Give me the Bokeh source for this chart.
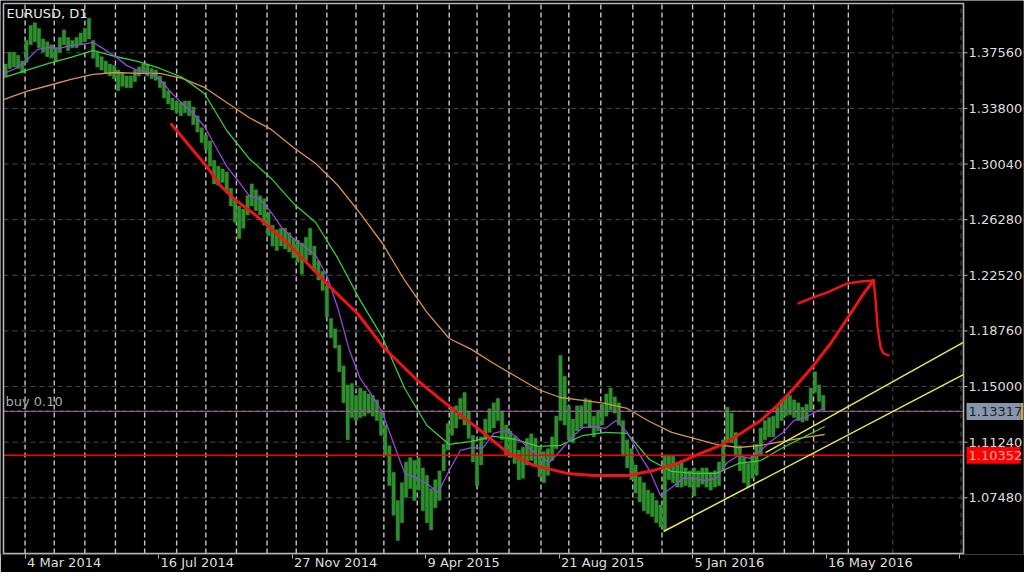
from bokeh.plotting import figure
from bokeh.models import (Range1d, FixedTicker, NumeralTickFormatter, Label, LinearAxis)
from bokeh.embed import file_html
from bokeh.resources import INLINE
from bokeh.core.properties import value

# ---------------- data ----------------
symbol_title = "EURUSD, D1"
buy_text = "buy 0.10"

# x axis = trading-day bar number (bar 0 = 11 Feb 2014)
date_tick_bars = [15, 111, 207, 303, 399, 495, 591]
date_tick_labels = ["4 Mar 2014", "16 Jul 2014", "27 Nov 2014", "9 Apr 2015",
                    "21 Aug 2015", "5 Jan 2016", "16 May 2016"]
extra_tick_bars = [687]
future_grid_bars = [639, 688]

price_ticks = [1.07480, 1.11240, 1.15000, 1.18760, 1.22520,
               1.26280, 1.30040, 1.33800, 1.37560]

# period separators (first bar of each month)
month_start_bars = [15, 36, 58, 80, 101, 124, 145, 167, 189, 210, 232, 253, 273,
                    297, 320, 340, 363, 386, 406, 429, 452, 473, 495, 518, 539,
                    561, 582, 607]

# price bars, grouped by 3 trading days: high / low of each group
bars_per_group = 3
hi = [
    1.368, 1.376, 1.376, 1.374, 1.370, 1.384, 1.394, 1.396, 1.392, 1.385,
    1.383, 1.381, 1.379, 1.386, 1.391, 1.386, 1.384, 1.386, 1.389, 1.392,
    1.399, 1.384, 1.376, 1.373, 1.370, 1.368, 1.367, 1.364, 1.362, 1.360,
    1.360, 1.364, 1.366, 1.368, 1.368, 1.365, 1.364, 1.360, 1.356, 1.350,
    1.345, 1.343, 1.342, 1.343, 1.343, 1.339, 1.333, 1.325, 1.320, 1.316,
    1.303, 1.299, 1.297, 1.295, 1.284, 1.277, 1.272, 1.270, 1.279, 1.287,
    1.283, 1.279, 1.277, 1.268, 1.259, 1.256, 1.257, 1.257, 1.254, 1.250,
    1.249, 1.247, 1.251, 1.257, 1.245, 1.235, 1.228, 1.218, 1.196, 1.189,
    1.178, 1.164, 1.151, 1.152, 1.144, 1.149, 1.147, 1.145, 1.144, 1.141,
    1.134, 1.124, 1.110, 1.092, 1.073, 1.085, 1.099, 1.102, 1.100, 1.102,
    1.095, 1.090, 1.081, 1.087, 1.093, 1.111, 1.125, 1.136, 1.137, 1.142,
    1.146, 1.133, 1.117, 1.103, 1.116, 1.128, 1.135, 1.139, 1.142, 1.133,
    1.124, 1.120, 1.116, 1.107, 1.109, 1.115, 1.118, 1.115, 1.109, 1.106,
    1.108, 1.116, 1.130, 1.171, 1.157, 1.137, 1.128, 1.137, 1.137, 1.142,
    1.141, 1.130, 1.134, 1.138, 1.145, 1.149, 1.143, 1.139, 1.127, 1.114,
    1.108, 1.097, 1.089, 1.085, 1.080, 1.078, 1.073, 1.070, 1.103, 1.103,
    1.103, 1.099, 1.100, 1.095, 1.093, 1.095, 1.093, 1.095, 1.095, 1.092,
    1.093, 1.099, 1.114, 1.136, 1.132, 1.119, 1.110, 1.102, 1.098, 1.103,
    1.111, 1.122, 1.127, 1.129, 1.130, 1.136, 1.141, 1.143, 1.144, 1.141,
    1.139, 1.136, 1.138, 1.149, 1.160, 1.151, 1.144]
lo = [
    1.360, 1.365, 1.366, 1.365, 1.362, 1.369, 1.381, 1.383, 1.379, 1.376,
    1.373, 1.372, 1.370, 1.376, 1.381, 1.377, 1.379, 1.379, 1.381, 1.383,
    1.385, 1.372, 1.366, 1.364, 1.362, 1.360, 1.358, 1.350, 1.353, 1.352,
    1.352, 1.356, 1.360, 1.362, 1.360, 1.358, 1.357, 1.352, 1.345, 1.341,
    1.337, 1.335, 1.333, 1.335, 1.333, 1.327, 1.322, 1.315, 1.310, 1.299,
    1.287, 1.286, 1.288, 1.281, 1.272, 1.261, 1.250, 1.257, 1.266, 1.272,
    1.269, 1.266, 1.259, 1.252, 1.245, 1.242, 1.245, 1.243, 1.241, 1.237,
    1.234, 1.226, 1.235, 1.239, 1.228, 1.222, 1.215, 1.197, 1.183, 1.176,
    1.160, 1.139, 1.114, 1.129, 1.127, 1.129, 1.130, 1.132, 1.130, 1.127,
    1.117, 1.103, 1.083, 1.063, 1.046, 1.058, 1.075, 1.081, 1.073, 1.080,
    1.066, 1.058, 1.053, 1.068, 1.073, 1.093, 1.107, 1.117, 1.122, 1.128,
    1.124, 1.115, 1.099, 1.083, 1.097, 1.114, 1.119, 1.122, 1.127, 1.114,
    1.103, 1.102, 1.098, 1.087, 1.088, 1.097, 1.100, 1.097, 1.089, 1.085,
    1.090, 1.100, 1.108, 1.127, 1.124, 1.114, 1.112, 1.120, 1.122, 1.125,
    1.122, 1.116, 1.120, 1.124, 1.130, 1.134, 1.132, 1.124, 1.103, 1.095,
    1.087, 1.078, 1.072, 1.066, 1.064, 1.062, 1.058, 1.055, 1.053, 1.087,
    1.085, 1.082, 1.082, 1.083, 1.082, 1.076, 1.082, 1.084, 1.082, 1.080,
    1.082, 1.083, 1.093, 1.112, 1.112, 1.103, 1.093, 1.085, 1.082, 1.088,
    1.090, 1.103, 1.114, 1.116, 1.116, 1.122, 1.127, 1.130, 1.131, 1.129,
    1.127, 1.126, 1.127, 1.134, 1.146, 1.140, 1.134]

# moving averages
ma_fast_bars = list(range(0, 585, 8)) + [590]
ma_fast = [
    1.3617, 1.3650, 1.3704, 1.3779, 1.3792, 1.3786, 1.3806, 1.3813, 1.3826, 1.3779,
    1.3731, 1.3671, 1.3637, 1.3623, 1.3576, 1.3488, 1.3414, 1.3346, 1.3258, 1.3123,
    1.2988, 1.2893, 1.2792, 1.2765, 1.2677, 1.2569, 1.2501, 1.2447, 1.2386, 1.2251,
    1.2028, 1.1751, 1.1555, 1.1447, 1.1325, 1.1115, 1.0913, 1.0885, 1.0845, 1.0784,
    1.0933, 1.1068, 1.1088, 1.1082, 1.1183, 1.1203, 1.1163, 1.1095, 1.1034, 1.0987,
    1.1068, 1.1156, 1.1223, 1.1230, 1.1217, 1.1271, 1.1190, 1.1054, 1.0933, 1.0764,
    1.0818, 1.0879, 1.0879, 1.0865, 1.0879, 1.0987, 1.1034, 1.1014, 1.1068, 1.1135,
    1.1190, 1.1271, 1.1291, 1.1332, 1.1352]
ma_slow_bars = list(range(0, 577, 16)) + [590]
ma_mid = [
    1.3590, 1.3637, 1.3684, 1.3725, 1.3772, 1.3731, 1.3698, 1.3650, 1.3590, 1.3481,
    1.3231, 1.3042, 1.2907, 1.2738, 1.2609, 1.2366, 1.2082, 1.1832, 1.1487, 1.1237,
    1.1109, 1.1129, 1.1163, 1.1142, 1.1095, 1.1102, 1.1169, 1.1190, 1.1183, 1.1007,
    1.0926, 1.0913, 1.0913, 1.0980, 1.1000, 1.1088, 1.1163, 1.1230]
ma_slow = [
    1.3441, 1.3495, 1.3535, 1.3576, 1.3610, 1.3623, 1.3617, 1.3617, 1.3583, 1.3522,
    1.3420, 1.3319, 1.3238, 1.3116, 1.3008, 1.2859, 1.2670, 1.2467, 1.2217, 1.2001,
    1.1825, 1.1751, 1.1656, 1.1568, 1.1480, 1.1426, 1.1406, 1.1386, 1.1352, 1.1264,
    1.1190, 1.1149, 1.1109, 1.1088, 1.1102, 1.1129, 1.1156, 1.1176]

buy_price = 1.13317
level_price = 1.10352

# trend channel lines (anchor bar, price)
chan_lower_bars = [474.1, 690.0]
chan_lower_prices = [1.0520, 1.1582]
chan_upper_bars = [547.5, 690.0]
chan_upper_prices = [1.1054, 1.1800]

# hand-drawn forecast curve
sketch_bars = [120.3, 131.8, 146.2, 155.5, 164.9, 179.3, 189.3, 203.7, 218.1, 236.8,
               254.1, 272.8, 297.2, 320.9, 342.5, 361.9, 380.6, 405.1, 423.8, 448.2,
               467.1, 484.2, 500.7, 515.1, 529.5, 543.9, 556.1, 567.6, 582.0, 594.2,
               608.6, 618.0, 625.1]
sketch_prices = [1.3272, 1.3143, 1.2981, 1.2859, 1.2772, 1.2670, 1.2589, 1.2467, 1.2332, 1.2150,
                 1.1994, 1.1764, 1.1541, 1.1359, 1.1203, 1.1054, 1.0967, 1.0913, 1.0899, 1.0899,
                 1.0933, 1.0980, 1.1048, 1.1102, 1.1183, 1.1271, 1.1372, 1.1487, 1.1643, 1.1791,
                 1.1994, 1.2129, 1.2217]
head1_bars = [571.2, 579.8, 592.0, 606.4, 615.8, 625.1]
head1_prices = [1.2062, 1.2096, 1.2136, 1.2197, 1.2210, 1.2217]
head2_bars = [625.1, 626.6, 628.0, 630.2, 632.3, 635.9]
head2_prices = [1.2217, 1.2082, 1.1900, 1.1764, 1.1724, 1.1710]

# ---------------- layout ----------------
FONT = "DejaVu Sans"
FS = 13
PAD_L, PAD_T, PAD_B = 3, 3, 1    # frame slack around the chart box
CHART_W, CHART_H = 960, 550      # chart box in px
LABEL_COL = 60                   # price-label column to the right of the chart
x_lo, x_hi = -0.5, 689.8         # visible bars
p_lo, p_hi = 1.03715, 1.40893    # visible prices
ppb = CHART_W / (x_hi - x_lo)    # px per bar
ppp = (p_hi - p_lo) / CHART_H    # price per px

FRAME_W = PAD_L + CHART_W + LABEL_COL
FRAME_H = PAD_T + CHART_H + PAD_B
fx0 = x_lo - PAD_L / ppb
p = figure(frame_width=FRAME_W, frame_height=FRAME_H, output_backend="svg",
           toolbar_location=None,
           x_range=Range1d(fx0, fx0 + FRAME_W / ppb),
           y_range=Range1d(p_lo - PAD_B * ppp, p_hi + PAD_T * ppp),
           y_axis_location="right",
           background_fill_color="#000000", border_fill_color="#000000",
           min_border_left=0, min_border_top=0, min_border_right=1, min_border_bottom=0,
           outline_line_color=None)
p.xgrid.visible = False
p.ygrid.visible = False

# price axis: labels drawn back into the label column
ya = p.yaxis[0]
ya.ticker = FixedTicker(ticks=price_ticks)
ya.formatter = NumeralTickFormatter(format="0.00000")
ya.major_label_text_color = "#dedede"
ya.major_label_text_font = FONT
ya.major_label_text_font_size = f"{FS}px"
ya.axis_line_color = None
ya.major_tick_line_color = None
ya.major_tick_out = 0
ya.major_tick_in = 0
ya.minor_tick_line_color = None
ya.major_label_standoff = -(LABEL_COL - 5)

# date axis 1: tick marks only
xa = p.xaxis[0]
xa.ticker = FixedTicker(ticks=date_tick_bars + extra_tick_bars)
xa.major_label_text_color = None
xa.major_label_standoff = 0
xa.axis_line_color = None
xa.major_tick_line_color = "#b4b4b4"
xa.major_tick_out = 4
xa.major_tick_in = 0
xa.minor_tick_line_color = None

# date axis 2: labels, left-aligned to the tick marks (centre = tick + half text width)
DEJAVU_EM = {" ": .318, "M": .863, "a": .613, "r": .411, "J": .295, "u": .634,
             "l": .278, "N": .748, "o": .612, "v": .592, "A": .684, "p": .635,
             "g": .635, "n": .634, "y": .592}
def text_px(s):
    return sum(DEJAVU_EM.get(ch, .636) for ch in s) * FS
label_centers = [round(b + (2 + text_px(t) / 2) / ppb, 2)
                 for b, t in zip(date_tick_bars, date_tick_labels)]
xb = LinearAxis(ticker=FixedTicker(ticks=label_centers),
                major_label_overrides=dict(zip(label_centers, date_tick_labels)),
                major_label_text_color="#dedede", major_label_text_font=FONT,
                major_label_text_font_size=f"{FS}px", major_label_standoff=-4,
                axis_line_color=None, major_tick_line_color=None,
                major_tick_out=0, major_tick_in=0, minor_tick_line_color=None)
p.add_layout(xb, "below")

# grid (chart box only)
n = len(price_ticks)
p.segment(x0=[x_lo] * n, x1=[x_hi] * n, y0=price_ticks, y1=price_ticks,
          line_color="#4a4a4a", line_dash="5 4", line_width=1)
m = len(future_grid_bars)
p.segment(x0=future_grid_bars, x1=future_grid_bars, y0=[p_lo] * m, y1=[p_hi] * m,
          line_color="#4a4a4a", line_dash="5 4", line_width=1)

# period separators
k = len(month_start_bars)
p.segment(x0=month_start_bars, x1=month_start_bars, y0=[p_lo] * k, y1=[p_hi] * k,
          line_color="#c4c4c4", line_dash="5 3", line_width=1.4)

# price bars
bar_x = [bars_per_group * i + 1 for i in range(len(hi))]
p.vbar(x=bar_x, top=hi, bottom=lo, width=2.4, fill_color="#2f8f2f",
       line_color="#2f8f2f", line_width=0.5)

# moving averages
p.line(ma_slow_bars, ma_slow, line_color="#d9944a", line_width=1.3)
p.line(ma_slow_bars, ma_mid, line_color="#3ccd3c", line_width=1.3)
p.line(ma_fast_bars, ma_fast, line_color="#9646dc", line_width=1.3)

# horizontal levels
p.segment(x0=[x_lo], x1=[x_hi], y0=[buy_price], y1=[buy_price],
          line_color="#6e5a50", line_width=1.2)
p.segment(x0=[x_lo], x1=[x_hi], y0=[buy_price], y1=[buy_price],
          line_color="#a45cb4", line_width=1.2, line_dash="4 3")
p.segment(x0=[x_lo], x1=[x_hi], y0=[level_price], y1=[level_price],
          line_color="#ff0000", line_width=1.6)

# channel
p.line(chan_lower_bars, chan_lower_prices, line_color="#e8e85c", line_width=1.5)
p.line(chan_upper_bars, chan_upper_prices, line_color="#e8e85c", line_width=1.5)

# hand-drawn sketch
for xs, ys, w in ((sketch_bars, sketch_prices, 3.0), (head1_bars, head1_prices, 2.4),
                  (head2_bars, head2_prices, 2.4)):
    p.line(xs, ys, line_color="#f01414", line_width=w, line_join="round", line_cap="round")

# chart border and price tick marks
p.line([x_lo, x_hi, x_hi, x_lo, x_lo], [p_hi, p_hi, p_lo, p_lo, p_hi],
       line_color="#b4b4b4", line_width=1.6)
p.segment(x0=[x_hi] * n, x1=[x_hi + 4 / ppb] * n, y0=price_ticks, y1=price_ticks,
          line_color="#b4b4b4", line_width=1)

# price tags in the label column
tag_prices = [buy_price, level_price]
tag_texts = [f"{buy_price:.5f}", f"{level_price:.5f}"]
p.rect(x=[x_hi + 30 / ppb] * 2, y=tag_prices, width=54, height=17,
       width_units="screen", height_units="screen",
       fill_color=["#8796ab", "#ff0000"], line_color=None)
p.rect(x=[x_hi + 58.5 / ppb], y=[buy_price], width=3, height=17,
       width_units="screen", height_units="screen",
       fill_color="#c8a468", line_color=None)
p.text(x=[x_hi + 5 / ppb] * 2, y=tag_prices, text=tag_texts,
       text_color=["#20242c", "#ffa8a8"], text_font=value(FONT),
       text_font_size=value(f"{FS}px"), text_baseline="middle", text_align="left")

# texts inside the chart
p.add_layout(Label(x=PAD_L + 3, y=FRAME_H - 5, x_units="screen", y_units="screen",
                   text=symbol_title, text_baseline="top", text_align="left",
                   text_color="#e8e8e8", text_font=FONT, text_font_size=f"{FS}px"))
p.add_layout(Label(x=PAD_L + 2, y=buy_price, x_units="screen", y_units="data", y_offset=2,
                   text=buy_text, text_baseline="bottom", text_align="left",
                   text_color="#a8a8a8", text_font=FONT, text_font_size=f"{FS}px"))

html = file_html(p, INLINE)
html = html.replace("<body>", '<body style="background-color:#000000;">', 1)
open("out.html", "w").write(html)
